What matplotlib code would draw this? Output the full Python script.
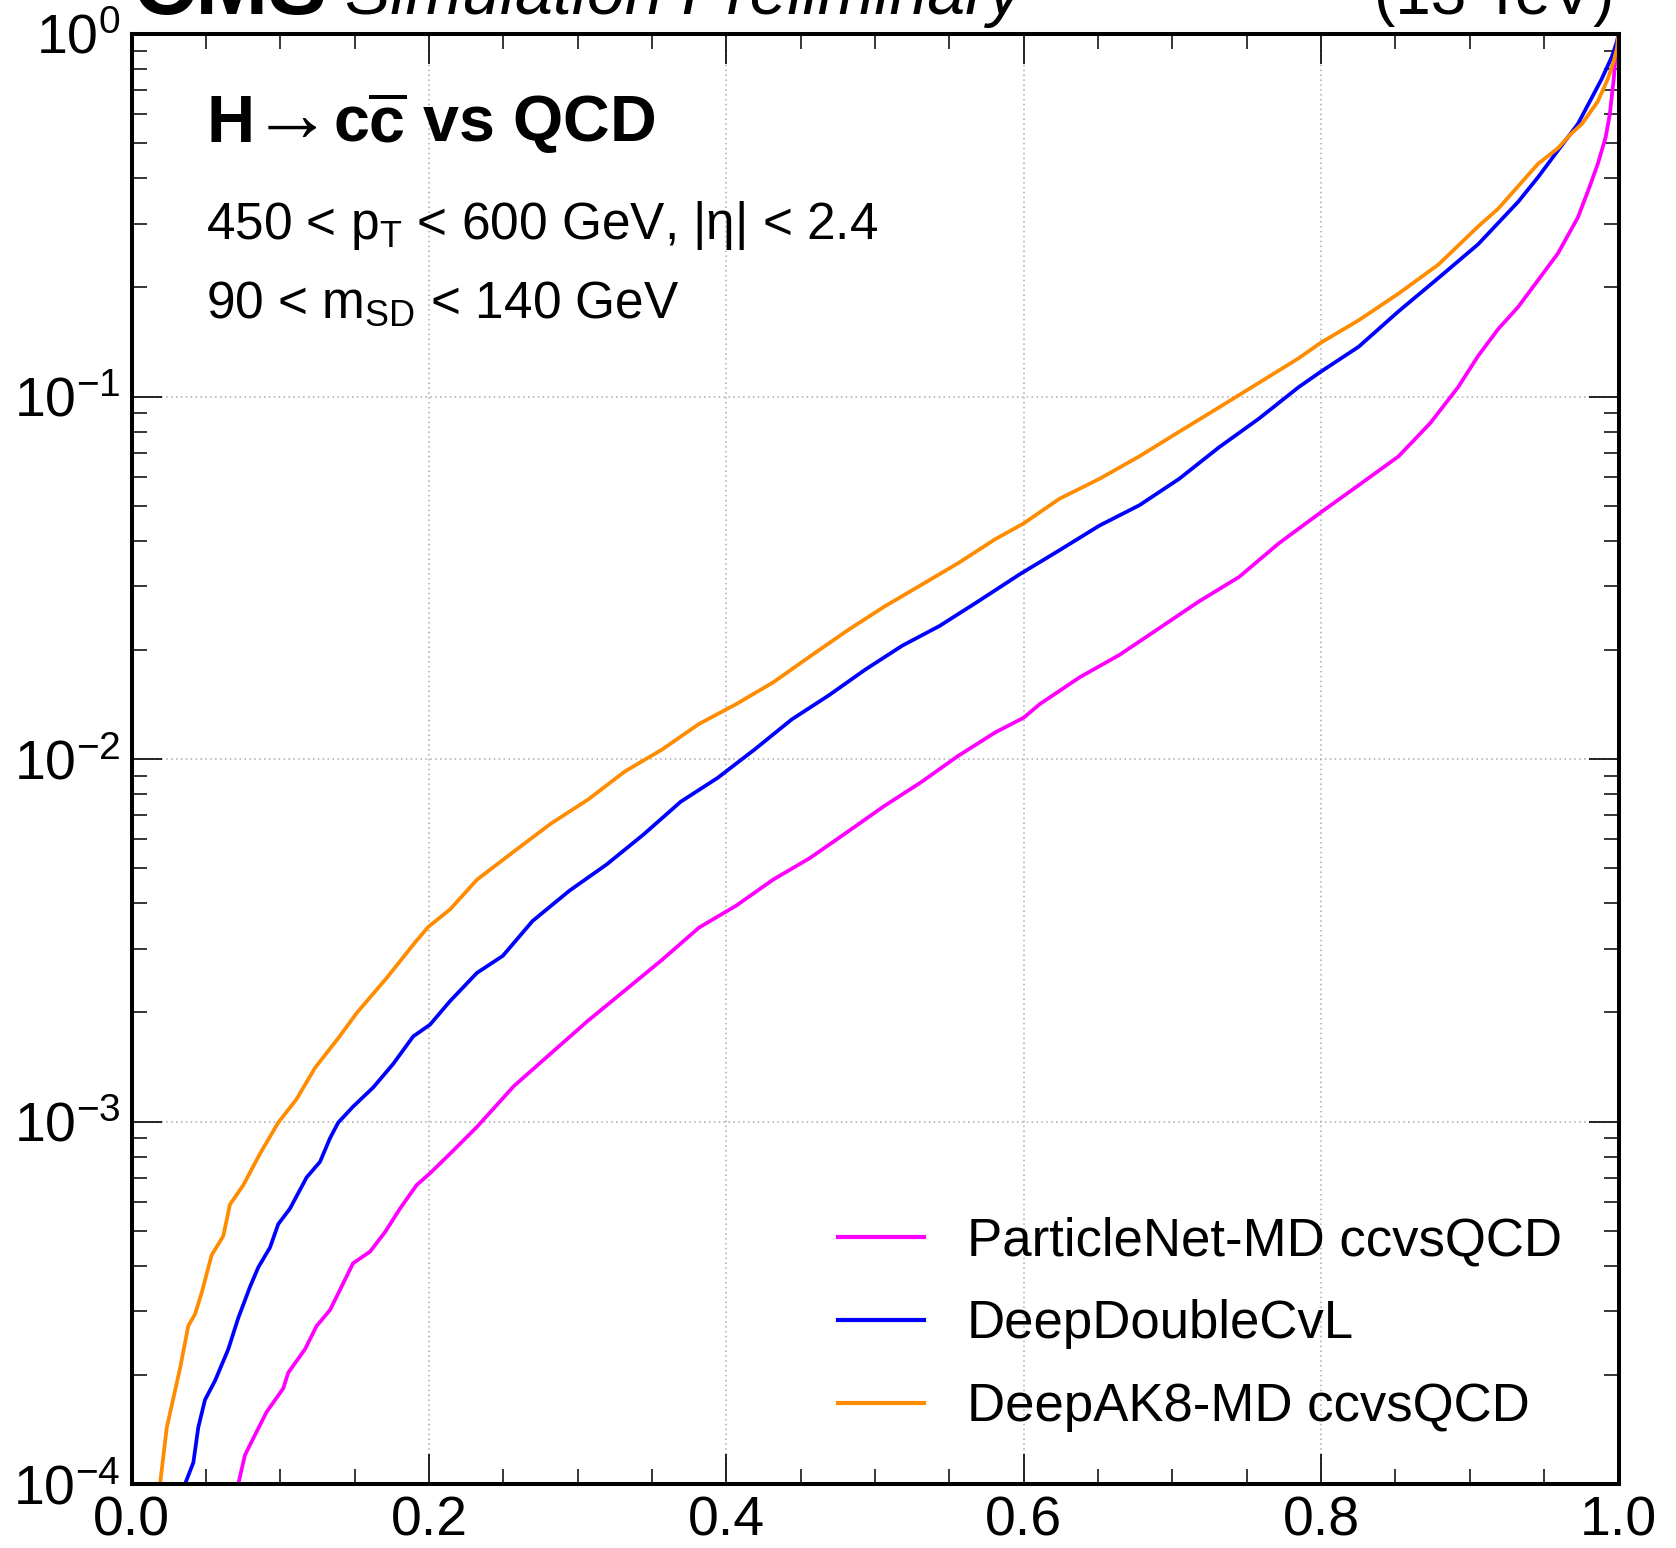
import matplotlib
matplotlib.use("Agg")
import matplotlib.pyplot as plt
from matplotlib.ticker import MultipleLocator, LogLocator, FormatStrFormatter, NullFormatter

# ---------------- data (signal efficiency, background efficiency) ----------------
pnet_x = [0.0718, 0.0763, 0.0842, 0.0909, 0.1021, 0.1054, 0.1167, 0.1245, 0.1335, 0.140,
          0.149, 0.1604, 0.1705, 0.1806, 0.1918, 0.2007, 0.2142, 0.2323, 0.2572, 0.2821,
          0.3070, 0.3319, 0.3568, 0.3817, 0.4065, 0.4314, 0.4563, 0.4812, 0.5061, 0.5310,
          0.5558, 0.5807, 0.6000, 0.6107, 0.6375, 0.6643, 0.6912, 0.7180, 0.7448, 0.7716,
          0.8000, 0.8252, 0.8521, 0.8735, 0.8922, 0.9056, 0.9191, 0.9325, 0.9459, 0.9593,
          0.9727, 0.9807, 0.9861, 0.9914, 0.9941, 0.9968, 0.9980, 1.0]
pnet_y = [1.0e-4, 1.202e-4, 1.396e-4, 1.581e-4, 1.837e-4, 2.028e-4, 2.355e-4, 2.729e-4, 3.020e-4, 3.420e-4,
          4.064e-4, 4.375e-4, 4.955e-4, 5.754e-4, 6.683e-4, 7.194e-4, 8.147e-4, 9.661e-4, 1.253e-3, 1.542e-3,
          1.897e-3, 2.301e-3, 2.793e-3, 3.428e-3, 3.936e-3, 4.645e-3, 5.333e-3, 6.281e-3, 7.413e-3, 8.630e-3,
          1.019e-2, 1.183e-2, 1.300e-2, 1.416e-2, 1.679e-2, 1.936e-2, 2.296e-2, 2.723e-2, 3.177e-2, 3.936e-2,
          4.797e-2, 5.689e-2, 6.839e-2, 8.453e-2, 0.1062, 0.1294, 0.1535, 0.1766, 0.2094, 0.2483,
          0.3119, 0.3802, 0.4385, 0.5200, 0.5984, 0.7516, 0.8650, 1.0]

ddcvl_x = [0.0360, 0.0416, 0.0449, 0.0494, 0.0562, 0.0651, 0.0718, 0.0797, 0.0853, 0.0931,
           0.0987, 0.1066, 0.1178, 0.1268, 0.1335, 0.1390, 0.1490, 0.1626, 0.1760, 0.1895,
           0.2007, 0.2142, 0.2323, 0.2497, 0.2697, 0.2946, 0.3195, 0.3444, 0.3693, 0.3942,
           0.4190, 0.4439, 0.4687, 0.4936, 0.5185, 0.5434, 0.5683, 0.5975, 0.6241, 0.6510,
           0.6778, 0.7046, 0.7314, 0.7582, 0.7850, 0.8000, 0.8252, 0.8521, 0.8789, 0.9056,
           0.9325, 0.9459, 0.9593, 0.9727, 0.9807, 0.9887, 0.9955, 0.9990, 1.0]
ddcvl_y = [1.0e-4, 1.146e-4, 1.432e-4, 1.706e-4, 1.928e-4, 2.355e-4, 2.871e-4, 3.499e-4, 3.963e-4, 4.487e-4,
           5.212e-4, 5.754e-4, 7.015e-4, 7.745e-4, 8.995e-4, 9.931e-4, 1.099e-3, 1.242e-3, 1.442e-3, 1.718e-3,
           1.849e-3, 2.148e-3, 2.570e-3, 2.864e-3, 3.573e-3, 4.335e-3, 5.117e-3, 6.194e-3, 7.621e-3, 8.872e-3,
           1.062e-2, 1.285e-2, 1.496e-2, 1.766e-2, 2.056e-2, 2.328e-2, 2.704e-2, 3.236e-2, 3.767e-2, 4.406e-2,
           5.012e-2, 5.929e-2, 7.244e-2, 8.690e-2, 0.1062, 0.1172, 0.1371, 0.1718, 0.2123, 0.2630,
           0.3443, 0.4027, 0.4775, 0.5649, 0.6516, 0.7516, 0.8650, 0.9550, 1.0]

dak8_x = [0.0192, 0.0237, 0.0326, 0.0382, 0.0427, 0.0472, 0.0539, 0.0617, 0.0662, 0.0752,
          0.0864, 0.0987, 0.1110, 0.1234, 0.1400, 0.1514, 0.1716, 0.1907, 0.1996, 0.2142,
          0.2323, 0.2572, 0.2821, 0.3070, 0.3319, 0.3568, 0.3817, 0.4065, 0.4314, 0.4563,
          0.4812, 0.5061, 0.5310, 0.5558, 0.5807, 0.6000, 0.6241, 0.6510, 0.6778, 0.7046,
          0.7314, 0.7582, 0.7850, 0.8000, 0.8252, 0.8521, 0.8789, 0.9056, 0.9191, 0.9325,
          0.9459, 0.9593, 0.9674, 0.9754, 0.9861, 0.9928, 0.9968, 0.9990, 1.0]
dak8_y = [1.0e-4, 1.43e-4, 2.08e-4, 2.73e-4, 2.94e-4, 3.37e-4, 4.28e-4, 4.83e-4, 5.90e-4, 6.68e-4,
          8.15e-4, 9.93e-4, 1.153e-3, 1.406e-3, 1.718e-3, 1.991e-3, 2.489e-3, 3.119e-3, 3.443e-3, 3.846e-3,
          4.645e-3, 5.559e-3, 6.637e-3, 7.727e-3, 9.247e-3, 1.062e-2, 1.250e-2, 1.416e-2, 1.626e-2, 1.919e-2,
          2.259e-2, 2.630e-2, 3.020e-2, 3.467e-2, 4.036e-2, 4.467e-2, 5.224e-2, 5.929e-2, 6.839e-2, 7.998e-2,
          9.333e-2, 0.1091, 0.1276, 0.1409, 0.1622, 0.1923, 0.2312, 0.2944, 0.3296, 0.3802,
          0.4385, 0.4842, 0.5272, 0.5649, 0.6516, 0.7516, 0.8414, 0.9162, 1.0]

labels = ["ParticleNet-MD ccvsQCD", "DeepDoubleCvL", "DeepAK8-MD ccvsQCD"]
colors = ["#ff00ff", "#0000ff", "#ff8c00"]

x_ticks = [0.0, 0.2, 0.4, 0.6, 0.8, 1.0]

# ---------------- style ----------------
plt.rcParams["font.family"] = ["Liberation Sans", "DejaVu Sans"]
plt.rcParams["mathtext.fontset"] = "custom"
plt.rcParams["mathtext.rm"] = "Liberation Sans"
plt.rcParams["mathtext.it"] = "Liberation Sans:italic"
plt.rcParams["mathtext.bf"] = "Liberation Sans:bold"
plt.rcParams["axes.unicode_minus"] = True

W, H = 1676, 1548
fig = plt.figure(figsize=(W / 100, H / 100), dpi=100)

def fx(px):
    return px / W

def fy(py):
    return 1 - py / H

left, right, top, bottom = 131.5, 1618.5, 34, 1484
ax = fig.add_axes([fx(left), fy(bottom), (right - left) / W, (bottom - top) / H])

ax.plot(pnet_x, pnet_y, color=colors[0], lw=2.7, label=labels[0])
ax.plot(ddcvl_x, ddcvl_y, color=colors[1], lw=2.7, label=labels[1])
ax.plot(dak8_x, dak8_y, color=colors[2], lw=2.7, label=labels[2])

ax.set_yscale("log")
ax.set_xlim(0, 1)
ax.set_ylim(1e-4, 1)

ax.xaxis.set_minor_locator(MultipleLocator(0.05))
ax.set_xticks(x_ticks)
ax.xaxis.set_major_formatter(FormatStrFormatter("%.1f"))
ax.yaxis.set_major_locator(LogLocator(base=10, numticks=10))
ax.yaxis.set_minor_locator(LogLocator(base=10, subs=[2, 3, 4, 5, 6, 7, 8, 9], numticks=20))
ax.yaxis.set_minor_formatter(NullFormatter())

ax.tick_params(which="both", direction="in", top=True, right=True, colors="black")
ax.tick_params(which="major", length=21.5, width=1.2, labelsize=40)
ax.tick_params(which="minor", length=10.5, width=1.1)
ax.tick_params(axis="x", which="major", pad=8)
ax.tick_params(axis="y", which="major", pad=8)

for s in ax.spines.values():
    s.set_linewidth(2.9)

ax.grid(True, which="major", linestyle=(0, (1, 2.2)), color="#aaaaaa", linewidth=1.1)
ax.set_axisbelow(True)

leg = ax.legend(loc="upper left", bbox_to_anchor=(fx(838), fy(1216)),
                bbox_transform=fig.transFigure, frameon=False, fontsize=38,
                borderpad=0, borderaxespad=0, handlelength=1.62, handletextpad=0.82,
                labelspacing=0.63)
for l in leg.get_lines():
    l.set_linewidth(3.0)

# ---------------- texts ----------------
fig.text(fx(132), fy(14), "CMS", fontsize=63, fontweight="bold", va="baseline", ha="left")
fig.text(fx(345), fy(14), "Simulation Preliminary", fontsize=49, fontstyle="italic",
         va="baseline", ha="left")
fig.text(fx(1614), fy(14), "(13 TeV)", fontsize=46, va="baseline", ha="right")

# title: H -> c cbar vs QCD
fig.text(fx(206), fy(142.5), "H", fontsize=48, fontweight="bold", va="baseline", ha="left")
fig.text(fx(278), fy(140), r"$\rightarrow$", fontsize=58, va="baseline", ha="center")
fig.text(fx(333), fy(142.5), r"$\mathbf{c\overline{c}}$ vs QCD",
         fontsize=46.5, fontweight="bold", va="baseline", ha="left")

fig.text(fx(206), fy(239), "450 < p$_{\\mathrm{T}}$ < 600 GeV, |η| < 2.4",
         fontsize=37, va="baseline", ha="left")
fig.text(fx(206), fy(318), "90 < m$_{\\mathrm{SD}}$ < 140 GeV",
         fontsize=37, va="baseline", ha="left")

fig.savefig("out.png", dpi=100)
